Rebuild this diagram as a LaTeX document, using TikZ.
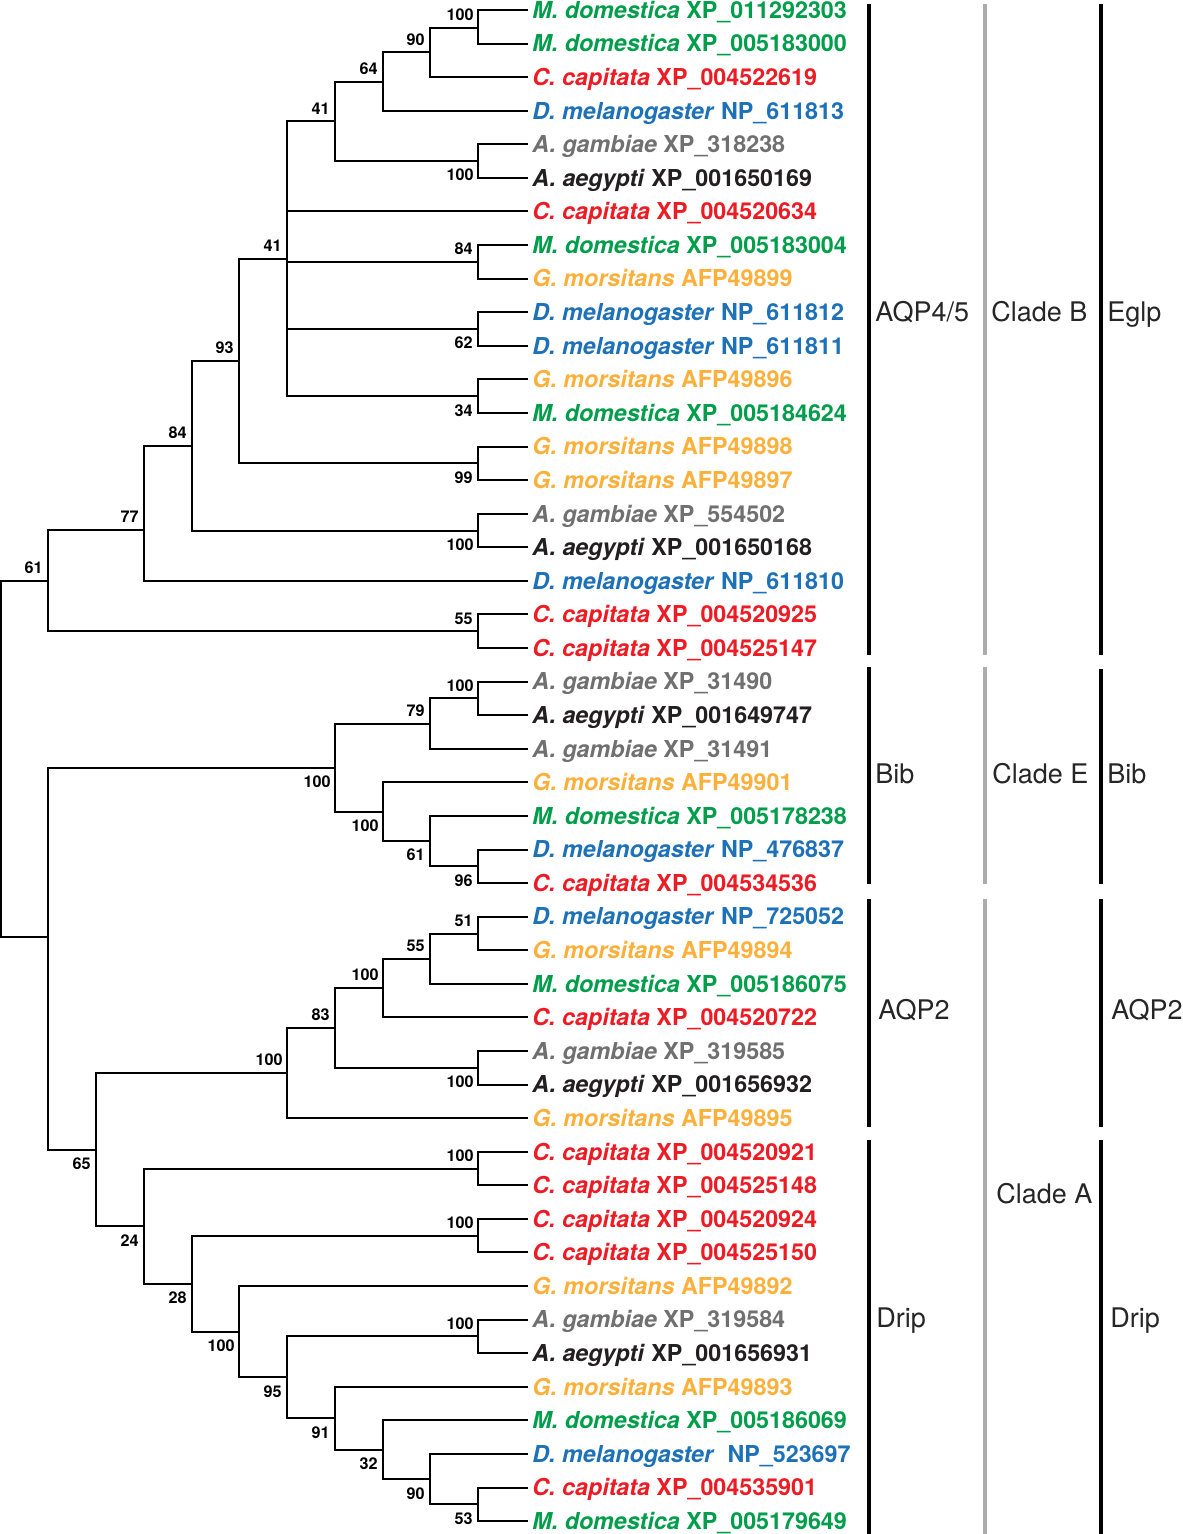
\documentclass[tikz,border=0pt]{standalone}
\usepackage{fontspec}
\setmainfont{TeX Gyre Heros}
\definecolor{cgreen}{RGB}{0,158,74}
\definecolor{cred}{RGB}{237,28,36}
\definecolor{cblue}{RGB}{29,113,184}
\definecolor{cgray}{RGB}{112,112,112}
\definecolor{cblack}{RGB}{35,31,32}
\definecolor{corange}{RGB}{251,176,59}
\definecolor{cbar}{RGB}{172,172,172}
\newcommand{\spMd}{\textit{M. domestica}}
\newcommand{\spCc}{\textit{C. capitata}}
\newcommand{\spDm}{\textit{D. melanogaster}}
\newcommand{\spAg}{\textit{A. gambiae}}
\newcommand{\spAa}{\textit{A. aegypti}}
\newcommand{\spGm}{\textit{G. morsitans}}
\begin{document}
\begin{tikzpicture}[x=0.5pt,y=-0.5pt,
  br/.style={line width=1pt,black},
  leaf/.style={anchor=west,inner xsep=2pt,inner ysep=0pt,font=\fontsize{11.65}{12}\selectfont\bfseries,text height=8.3pt,text depth=0pt},
  Md/.style={leaf,text=cgreen},
  Cc/.style={leaf,text=cred},
  Dm/.style={leaf,text=cblue},
  Ag/.style={leaf,text=cgray},
  Aa/.style={leaf,text=cblack},
  Gm/.style={leaf,text=corange},
  bs/.style={anchor=east,inner sep=0pt,font=\fontsize{8.1}{9}\selectfont\bfseries,text height=5.8pt,text depth=0pt},
  cl/.style={anchor=west,inner sep=0pt,font=\fontsize{13.5}{15}\selectfont,text height=9.7pt,text depth=0pt,text=black!85},
  barb/.style={line width=2pt,black},
  barg/.style={line width=2pt,cbar}]
\useasboundingbox (0,0) rectangle (1182,1534);
% leaves
\node[Md] (L1) at (528,10) {\spMd{} XP\_011292303};
\node[Md] (L2) at (528,43.58) {\spMd{} XP\_005183000};
\node[Cc] (L3) at (528,77.16) {\spCc{} XP\_004522619};
\node[Dm] (L4) at (528,110.74) {\spDm{} NP\_611813};
\node[Ag] (L5) at (528,144.32) {\spAg{} XP\_318238};
\node[Aa] (L6) at (528,177.9) {\spAa{} XP\_001650169};
\node[Cc] (L7) at (528,211.48) {\spCc{} XP\_004520634};
\node[Md] (L8) at (528,245.06) {\spMd{} XP\_005183004};
\node[Gm] (L9) at (528,278.64) {\spGm{} AFP49899};
\node[Dm] (L10) at (528,312.22) {\spDm{} NP\_611812};
\node[Dm] (L11) at (528,345.8) {\spDm{} NP\_611811};
\node[Gm] (L12) at (528,379.38) {\spGm{} AFP49896};
\node[Md] (L13) at (528,412.96) {\spMd{} XP\_005184624};
\node[Gm] (L14) at (528,446.54) {\spGm{} AFP49898};
\node[Gm] (L15) at (528,480.12) {\spGm{} AFP49897};
\node[Ag] (L16) at (528,513.7) {\spAg{} XP\_554502};
\node[Aa] (L17) at (528,547.28) {\spAa{} XP\_001650168};
\node[Dm] (L18) at (528,580.86) {\spDm{} NP\_611810};
\node[Cc] (L19) at (528,614.44) {\spCc{} XP\_004520925};
\node[Cc] (L20) at (528,648.02) {\spCc{} XP\_004525147};
\node[Ag] (L21) at (528,681.6) {\spAg{} XP\_31490};
\node[Aa] (L22) at (528,715.18) {\spAa{} XP\_001649747};
\node[Ag] (L23) at (528,748.76) {\spAg{} XP\_31491};
\node[Gm] (L24) at (528,782.34) {\spGm{} AFP49901};
\node[Md] (L25) at (528,815.92) {\spMd{} XP\_005178238};
\node[Dm] (L26) at (528,849.5) {\spDm{} NP\_476837};
\node[Cc] (L27) at (528,883.08) {\spCc{} XP\_004534536};
\node[Dm] (L28) at (528,916.66) {\spDm{} NP\_725052};
\node[Gm] (L29) at (528,950.24) {\spGm{} AFP49894};
\node[Md] (L30) at (528,983.82) {\spMd{} XP\_005186075};
\node[Cc] (L31) at (528,1017.4) {\spCc{} XP\_004520722};
\node[Ag] (L32) at (528,1050.98) {\spAg{} XP\_319585};
\node[Aa] (L33) at (528,1084.56) {\spAa{} XP\_001656932};
\node[Gm] (L34) at (528,1118.14) {\spGm{} AFP49895};
\node[Cc] (L35) at (528,1151.72) {\spCc{} XP\_004520921};
\node[Cc] (L36) at (528,1185.3) {\spCc{} XP\_004525148};
\node[Cc] (L37) at (528,1218.88) {\spCc{} XP\_004520924};
\node[Cc] (L38) at (528,1252.46) {\spCc{} XP\_004525150};
\node[Gm] (L39) at (528,1286.04) {\spGm{} AFP49892};
\node[Ag] (L40) at (528,1319.62) {\spAg{} XP\_319584};
\node[Aa] (L41) at (528,1353.2) {\spAa{} XP\_001656931};
\node[Gm] (L42) at (528,1386.78) {\spGm{} AFP49893};
\node[Md] (L43) at (528,1420.36) {\spMd{} XP\_005186069};
\node[Dm] (L44) at (528,1453.94) {\spDm{}\ \ NP\_523697};
\node[Cc] (L45) at (528,1487.52) {\spCc{} XP\_004535901};
\node[Md] (L46) at (528,1521.1) {\spMd{} XP\_005179649};
% internal nodes
\coordinate (n1) at (478,27.8);
\coordinate (n2) at (430,52.5);
\coordinate (n3) at (383,81.6);
\coordinate (n4) at (478,161.1);
\coordinate (n5) at (335,121.4);
\coordinate (n6) at (478,261.9);
\coordinate (n7) at (478,329);
\coordinate (n8) at (478,396.2);
\coordinate (n9) at (287,258.8);
\coordinate (n10) at (478,463.3);
\coordinate (n11) at (239,361);
\coordinate (n12) at (478,530.5);
\coordinate (n13) at (192,445.8);
\coordinate (n14) at (144,530);
\coordinate (n15) at (478,631.2);
\coordinate (n16) at (48,580.6);
\coordinate (n17) at (478,698.4);
\coordinate (n18) at (430,723.6);
\coordinate (n19) at (478,866.3);
\coordinate (n20) at (430,841.1);
\coordinate (n21) at (383,811.7);
\coordinate (n22) at (335,767.7);
\coordinate (n23) at (478,933.5);
\coordinate (n24) at (430,958.7);
\coordinate (n25) at (383,988);
\coordinate (n26) at (478,1067.8);
\coordinate (n27) at (335,1027.9);
\coordinate (n28) at (287,1073);
\coordinate (n29) at (478,1168.6);
\coordinate (n30) at (478,1235.7);
\coordinate (n31) at (478,1336.4);
\coordinate (n32) at (478,1504.3);
\coordinate (n33) at (430,1479.2);
\coordinate (n34) at (383,1449.8);
\coordinate (n35) at (335,1418.3);
\coordinate (n36) at (287,1377.4);
\coordinate (n37) at (239,1331.8);
\coordinate (n38) at (192,1283.8);
\coordinate (n39) at (144,1226.2);
\coordinate (n40) at (96,1149.6);
\coordinate (n41) at (48,937);
\coordinate (root) at (1,758.8);
% branches
\draw[br] (n1) |- (L1.west); \draw[br] (n1) |- (L2.west);
\draw[br] (n2) |- (n1); \draw[br] (n2) |- (L3.west);
\draw[br] (n3) |- (n2); \draw[br] (n3) |- (L4.west);
\draw[br] (n4) |- (L5.west); \draw[br] (n4) |- (L6.west);
\draw[br] (n5) |- (n3); \draw[br] (n5) |- (n4);
\draw[br] (n6) |- (L8.west); \draw[br] (n6) |- (L9.west);
\draw[br] (n7) |- (L10.west); \draw[br] (n7) |- (L11.west);
\draw[br] (n8) |- (L12.west); \draw[br] (n8) |- (L13.west);
\draw[br] (n9) |- (n5); \draw[br] (n9) |- (L7.west); \draw[br] (n9) |- (n6); \draw[br] (n9) |- (n7); \draw[br] (n9) |- (n8);
\draw[br] (n10) |- (L14.west); \draw[br] (n10) |- (L15.west);
\draw[br] (n11) |- (n9); \draw[br] (n11) |- (n10);
\draw[br] (n12) |- (L16.west); \draw[br] (n12) |- (L17.west);
\draw[br] (n13) |- (n11); \draw[br] (n13) |- (n12);
\draw[br] (n14) |- (n13); \draw[br] (n14) |- (L18.west);
\draw[br] (n15) |- (L19.west); \draw[br] (n15) |- (L20.west);
\draw[br] (n16) |- (n14); \draw[br] (n16) |- (n15);
\draw[br] (n17) |- (L21.west); \draw[br] (n17) |- (L22.west);
\draw[br] (n18) |- (n17); \draw[br] (n18) |- (L23.west);
\draw[br] (n19) |- (L26.west); \draw[br] (n19) |- (L27.west);
\draw[br] (n20) |- (L25.west); \draw[br] (n20) |- (n19);
\draw[br] (n21) |- (L24.west); \draw[br] (n21) |- (n20);
\draw[br] (n22) |- (n18); \draw[br] (n22) |- (n21);
\draw[br] (n23) |- (L28.west); \draw[br] (n23) |- (L29.west);
\draw[br] (n24) |- (n23); \draw[br] (n24) |- (L30.west);
\draw[br] (n25) |- (n24); \draw[br] (n25) |- (L31.west);
\draw[br] (n26) |- (L32.west); \draw[br] (n26) |- (L33.west);
\draw[br] (n27) |- (n25); \draw[br] (n27) |- (n26);
\draw[br] (n28) |- (n27); \draw[br] (n28) |- (L34.west);
\draw[br] (n29) |- (L35.west); \draw[br] (n29) |- (L36.west);
\draw[br] (n30) |- (L37.west); \draw[br] (n30) |- (L38.west);
\draw[br] (n31) |- (L40.west); \draw[br] (n31) |- (L41.west);
\draw[br] (n32) |- (L45.west); \draw[br] (n32) |- (L46.west);
\draw[br] (n33) |- (L44.west); \draw[br] (n33) |- (n32);
\draw[br] (n34) |- (L43.west); \draw[br] (n34) |- (n33);
\draw[br] (n35) |- (L42.west); \draw[br] (n35) |- (n34);
\draw[br] (n36) |- (n31); \draw[br] (n36) |- (n35);
\draw[br] (n37) |- (L39.west); \draw[br] (n37) |- (n36);
\draw[br] (n38) |- (n30); \draw[br] (n38) |- (n37);
\draw[br] (n39) |- (n29); \draw[br] (n39) |- (n38);
\draw[br] (n40) |- (n28); \draw[br] (n40) |- (n39);
\draw[br] (n41) |- (n22); \draw[br] (n41) |- (n40);
\draw[br] (root) |- (n16); \draw[br] (root) |- (n41);
% bootstrap values
\node[bs] (b1) at (474,14.8) {100};
\node[bs] (b2) at (425,39.5) {90};
\node[bs] (b3) at (378,68.6) {64};
\node[bs] (b4) at (474,175.1) {100};
\node[bs] (b5) at (330,108.4) {41};
\node[bs] (b6) at (473,248.9) {84};
\node[bs] (b7) at (473,343) {62};
\node[bs] (b8) at (473,410.2) {34};
\node[bs] (b9) at (282,245.8) {41};
\node[bs] (b10) at (473,477.3) {99};
\node[bs] (b11) at (234,348) {93};
\node[bs] (b12) at (474,544.5) {100};
\node[bs] (b13) at (187,432.8) {84};
\node[bs] (b14) at (139,517) {77};
\node[bs] (b15) at (473,618.2) {55};
\node[bs] (b16) at (43,567.6) {61};
\node[bs] (b17) at (474,685.4) {100};
\node[bs] (b18) at (425,710.6) {79};
\node[bs] (b19) at (473,880.3) {96};
\node[bs] (b20) at (425,855.1) {61};
\node[bs] (b21) at (379,825.7) {100};
\node[bs] (b22) at (331,781.7) {100};
\node[bs] (b23) at (473,920.5) {51};
\node[bs] (b24) at (425,945.7) {55};
\node[bs] (b25) at (379,975) {100};
\node[bs] (b26) at (474,1081.8) {100};
\node[bs] (b27) at (330,1014.9) {83};
\node[bs] (b28) at (283,1060) {100};
\node[bs] (b29) at (474,1155.6) {100};
\node[bs] (b30) at (474,1222.7) {100};
\node[bs] (b31) at (474,1323.4) {100};
\node[bs] (b32) at (473,1518.3) {53};
\node[bs] (b33) at (425,1493.2) {90};
\node[bs] (b34) at (378,1463.8) {32};
\node[bs] (b35) at (330,1432.3) {91};
\node[bs] (b36) at (282,1391.4) {95};
\node[bs] (b37) at (235,1345.8) {100};
\node[bs] (b38) at (187,1297.8) {28};
\node[bs] (b39) at (139,1240.2) {24};
\node[bs] (b40) at (91,1163.6) {65};
% clade bars
\draw[barb] (868.5,4) -- (868.5,655);
\draw[barb] (868.5,667) -- (868.5,884);
\draw[barb] (868.5,899) -- (868.5,1127);
\draw[barb] (868.5,1140) -- (868.5,1534);
\draw[barg] (984.5,4) -- (984.5,655);
\draw[barg] (984.5,667) -- (984.5,884);
\draw[barg] (984.5,899) -- (984.5,1534);
\draw[barb] (1100.5,4) -- (1100.5,655);
\draw[barb] (1100.5,669) -- (1100.5,884);
\draw[barb] (1100.5,899) -- (1100.5,1127);
\draw[barb] (1100.5,1140) -- (1100.5,1534);
% clade labels
\node[cl] (c1) at (875,312) {AQP4/5};
\node[cl] (c2) at (991,312) {Clade B};
\node[cl] (c3) at (1107,312) {Eglp};
\node[cl] (c4) at (875,774) {Bib};
\node[cl] (c5) at (992,774) {Clade E};
\node[cl] (c6) at (1107,774) {Bib};
\node[cl] (c7) at (878,1010) {AQP2};
\node[cl] (c8) at (1111,1010) {AQP2};
\node[cl] (c9) at (996,1194) {Clade A};
\node[cl] (c10) at (876,1318) {Drip};
\node[cl] (c11) at (1110,1318) {Drip};
\end{tikzpicture}
\end{document}
